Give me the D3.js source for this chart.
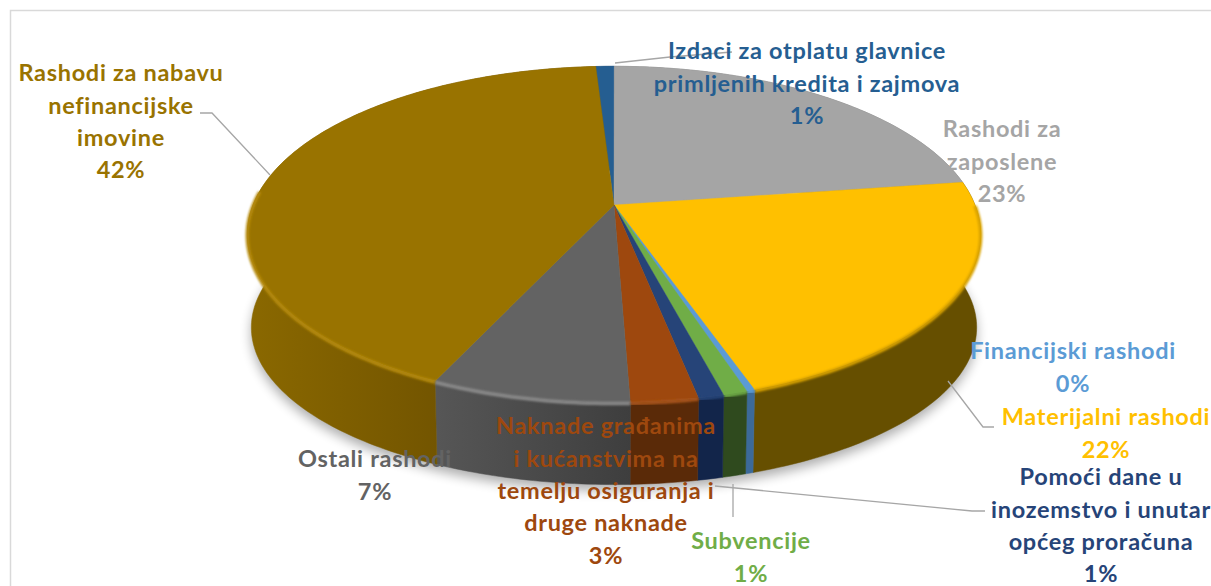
<!DOCTYPE html>
<html>
<head>
<meta charset="utf-8">
<script src="https://cdn.jsdelivr.net/npm/d3@7"></script>
<style>
  html, body { margin: 0; padding: 0; background: #fff; overflow: hidden; }
  text { font-family: Lato, "Open Sans", sans-serif; font-weight: 700; font-size: 23.5px; letter-spacing: 0.7px; text-anchor: middle; }
</style>
</head>
<body>
<div id="chart"></div>
<script>
// clockwise from the blue slice just left of 12 o'clock
const categories = ["Izdaci za otplatu glavnice primljenih kredita i zajmova", "Rashodi za zaposlene", "Materijalni rashodi", "Financijski rashodi", "Subvencije", "Pomoći dane u inozemstvo i unutar općeg proračuna", "Naknade građanima i kućanstvima na temelju osiguranja i druge naknade", "Ostali rashodi", "Rashodi za nabavu nefinancijske imovine"];
const values = [0.95, 22.6, 21.9, 0.3, 0.9, 0.95, 2.5, 7.4, 42];
const percentLabels = ["1%", "23%", "22%", "0%", "1%", "1%", "3%", "7%", "42%"];
const colors = ["#255e91", "#a5a5a5", "#ffc000", "#5b9bd5", "#70ad47", "#264478", "#9e480e", "#636363", "#997300"];
const wallColors = ["#1c466d", "#7c7c7c", "#664f00", "#3c6a99", "#2f4a1e", "#12254a", "#5a2a08", "url(#grayWall)", "url(#goldWall)"];
const bevelColors = ["#255e91", "#a5a5a5", "#d9a300", "#5b9bd5", "#70ad47", "#264478", "#a9541a", "#8a8a8a", "#b58a0c"];
const labelLines = [
  ["Izdaci za otplatu glavnice", "primljenih kredita i zajmova"],
  ["Rashodi za", "zaposlene"],
  ["Materijalni rashodi"],
  ["Financijski rashodi"],
  ["Subvencije"],
  ["Pomoći dane u", "inozemstvo i unutar", "općeg proračuna"],
  ["Naknade građanima", "i kućanstvima na", "temelju osiguranja i", "druge naknade"],
  ["Ostali rashodi"],
  ["Rashodi za nabavu", "nefinancijske", "imovine"]
];
const labelCenterX = [807, 1002, 1106, 1073, 751, 1101, 606, 375, 121];
const labelFirstY = [51, 129, 417, 351, 541, 477, 426, 459, 73];
const leaderLines = [
  [[615, 63], [670, 57], [732, 52]],
  [[948, 381], [983, 427], [994, 427]],
  [[733, 484], [733, 517]],
  [[715, 486], [972, 511], [985, 511]],
  [[200, 113], [212, 113], [270, 175]]
];

const width = 1211, height = 586;
const cx = 614, cy = 205, ax = 361, ay = 163, persp = 0.175;
// ellipse of the top rim and of the lower rim of the disc
const topCy = 234, bottomCy = 327, scaleX = 363 / 367, scaleY = 157 / 168;
const lineGap = 32.4;

const svg = d3.select("#chart").append("svg")
  .attr("width", width)
  .attr("height", height)
  .style("display", "block");

const defs = svg.append("defs");
defs.append("filter").attr("id", "soft").attr("x", "-20%").attr("y", "-20%").attr("width", "140%").attr("height", "140%")
  .append("feGaussianBlur").attr("stdDeviation", 6);
defs.append("filter").attr("id", "soft2").attr("x", "-20%").attr("y", "-20%").attr("width", "140%").attr("height", "140%")
  .append("feGaussianBlur").attr("stdDeviation", 1.2);

function wallGradient(id, x1, x2, c1, c2) {
  const g = defs.append("linearGradient").attr("id", id)
    .attr("gradientUnits", "userSpaceOnUse")
    .attr("x1", x1).attr("x2", x2).attr("y1", 0).attr("y2", 0);
  g.append("stop").attr("offset", 0).attr("stop-color", c1);
  g.append("stop").attr("offset", 1).attr("stop-color", c2);
}
wallGradient("goldWall", 250, 437, "#8a6800", "#735500");
wallGradient("grayWall", 437, 640, "#565656", "#3d3d3d");

// frame, open on the right and at the bottom
svg.append("path")
  .attr("d", d3.line()([[10.5, height], [10.5, 10.5], [width, 10.5]]))
  .attr("fill", "none")
  .attr("stroke", "#d9d9d9")
  .attr("stroke-width", 1.5);

const pie = d3.pie().sort(null).value(d => d)
  .startAngle(-3.4 * Math.PI / 180)
  .endAngle(2 * Math.PI - 3.4 * Math.PI / 180);
const arcs = pie(values);

// circle of the pie seen in perspective, so near slices open up
function project(a) {
  const u = Math.sin(a), v = -Math.cos(a), w = 1 - persp * v;
  return [cx + ax * u / w, cy + ay * v / w];
}
function rim(a0, a1) {
  const n = Math.max(2, Math.ceil((a1 - a0) * 60));
  return d3.range(n + 1).map(i => project(a0 + (a1 - a0) * i / n));
}
const line = d3.line();
const lower = p => [cx + (p[0] - cx) * scaleX, bottomCy + (p[1] - topCy) * scaleY];
const whole = rim(0, 2 * Math.PI);

// soft shadow below the disc
svg.append("path")
  .attr("d", line(whole.map(p => { const q = lower(p); return [q[0], q[1] + 6]; })) + "Z")
  .attr("fill", "#000")
  .attr("opacity", 0.32)
  .attr("filter", "url(#soft)");

// walls
arcs.forEach((d, i) => {
  const top = rim(d.startAngle, d.endAngle);
  svg.append("path")
    .attr("d", line(top.concat(top.slice().reverse().map(lower))) + "Z")
    .attr("fill", wallColors[i])
    .attr("stroke", wallColors[i])
    .attr("stroke-width", 0.5);
});

// top faces
arcs.forEach((d, i) => {
  svg.append("path")
    .attr("d", line([[cx, cy]].concat(rim(d.startAngle, d.endAngle))) + "Z")
    .attr("fill", colors[i])
    .attr("stroke", colors[i])
    .attr("stroke-width", 0.4);
});

// rounded bevel, only on the front part of the rim
const bevelFrom = Math.PI / 2, bevelTo = 275 * Math.PI / 180;
arcs.forEach((d, i) => {
  const a0 = Math.max(d.startAngle, bevelFrom), a1 = Math.min(d.endAngle, bevelTo);
  if (a1 <= a0) return;
  svg.append("path")
    .attr("d", line(rim(a0, a1).map(p => [p[0], p[1] + 1])))
    .attr("fill", "none")
    .attr("stroke", bevelColors[i])
    .attr("stroke-width", 3.5)
    .attr("filter", "url(#soft2)");
});

// leader lines
svg.selectAll(".leader")
  .data(leaderLines)
  .enter()
  .append("path")
  .attr("class", "leader")
  .attr("d", d => line(d))
  .attr("fill", "none")
  .attr("stroke", "#a6a6a6")
  .attr("stroke-width", 1.3);

// labels
categories.forEach((c, i) => {
  const rows = labelLines[i].concat([percentLabels[i]]);
  rows.forEach((t, j) => {
    svg.append("text")
      .attr("x", labelCenterX[i])
      .attr("y", labelFirstY[i] + j * lineGap)
      .attr("dy", "0.35em")
      .attr("fill", colors[i])
      .text(t);
  });
});
</script>
</body>
</html>
